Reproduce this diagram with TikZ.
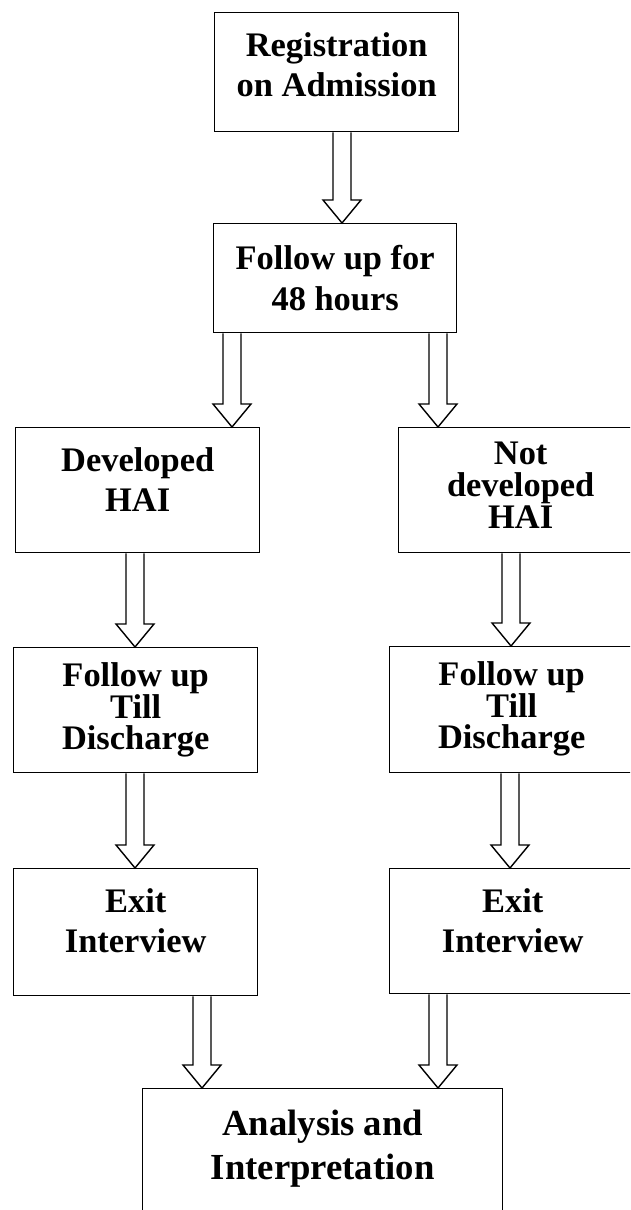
\documentclass[tikz,border=0pt]{standalone}
\usepackage{fontspec}
\setmainfont{Liberation Serif}
\usetikzlibrary{calc,positioning}

\newcommand\blockarrow[3]{%
  \path (#3,0 |- #1.south) coordinate (ba1) (#3,0 |- #2.north) coordinate (ba2);
  \draw[blk] ($(ba1)+(-9,0)$) -- ($(ba2)+(-9,-23)$) -- ($(ba2)+(-19,-23)$) -- (ba2)
    -- ($(ba2)+(19,-23)$) -- ($(ba2)+(9,-23)$) -- ($(ba1)+(9,0)$);
}

\begin{document}
\begin{tikzpicture}[x=0.02cm,y=-0.02cm,
  box/.style={draw,line width=.8pt,inner sep=0,anchor=north west},
  blk/.style={line width=.8pt,line join=miter},
  lbl/.style={align=center,inner sep=0,font=\bfseries\fontsize{19.6}{23}\selectfont},
  lblt/.style={align=center,inner sep=0,font=\bfseries\fontsize{19.6}{18.1}\selectfont}]
\useasboundingbox (0,0) rectangle (630,1210);
\clip (0,0) rectangle (630,1210);

\node[box,minimum width=4.88cm,minimum height=2.38cm] (reg) at (214,12) {};
\node[box,minimum width=4.86cm,minimum height=2.18cm] (fu48) at (213,223) {};
\node[box,minimum width=4.88cm,minimum height=2.5cm] (dev) at (15,427) {};
\node[box,minimum width=4.88cm,minimum height=2.5cm] (ndev) at (398,427) {};
\node[box,minimum width=4.88cm,minimum height=2.5cm] (fuL) at (13,647) {};
\node[box,minimum width=4.88cm,minimum height=2.52cm] (fuR) at (389,646) {};
\node[box,minimum width=4.88cm,minimum height=2.54cm] (exL) at (13,868) {};
\node[box,minimum width=4.92cm,minimum height=2.5cm] (exR) at (389,868) {};
\node[box,minimum width=7.2cm,minimum height=4cm] (ana) at (142,1088) {};

\node[lbl,below=.4cm of reg.north] (regt) {Registration\\on Admission};
\node[lbl,below=.44cm of fu48.north] (fu48t) {Follow up for\\48 hours};
\node[lbl,below=.4cm of dev.north] (devt) {Developed\\HAI};
\node[lblt,below=.3cm of ndev.north] (ndevt) {Not\\developed\\HAI};
\node[lblt,below=.3cm of fuL.north] (fuLt) {Follow up\\Till\\Discharge};
\node[lblt,below=.3cm of fuR.north] (fuRt) {Follow up\\Till\\Discharge};
\node[lbl,below=.4cm of exL.north] (exLt) {Exit\\Interview};
\node[lbl,below=.4cm of exR.north] (exRt) {Exit\\Interview};
\node[lbl,below=.44cm of ana.north,font=\bfseries\fontsize{20.9}{25}\selectfont] (anat) {Analysis and\\Interpretation};

\blockarrow{reg}{fu48}{342}
\blockarrow{fu48}{dev}{232}
\blockarrow{fu48}{ndev}{438}
\blockarrow{dev}{fuL}{135}
\blockarrow{ndev}{fuR}{511}
\blockarrow{fuL}{exL}{135}
\blockarrow{fuR}{exR}{510}
\blockarrow{exL}{ana}{202}
\blockarrow{exR}{ana}{438}

\end{tikzpicture}
\end{document}
